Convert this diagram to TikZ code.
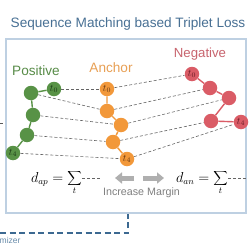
\documentclass[tikz,border=0pt]{standalone}
\usepackage{fontspec}
\newfontfamily\sff{Liberation Sans}
\usetikzlibrary{arrows.meta}
\definecolor{boxc}{RGB}{190,208,226}
\definecolor{titlec}{RGB}{72,112,148}
\definecolor{gfill}{RGB}{88,146,70}
\definecolor{gtext}{RGB}{88,140,72}
\definecolor{glab}{RGB}{25,55,20}
\definecolor{ofill}{RGB}{242,152,58}
\definecolor{otext}{RGB}{232,160,85}
\definecolor{olab}{RGB}{95,50,15}
\definecolor{rfill}{RGB}{218,92,102}
\definecolor{rtext}{RGB}{200,100,110}
\definecolor{rlab}{RGB}{100,25,35}
\definecolor{dashc}{RGB}{100,100,100}
\definecolor{arrc}{RGB}{175,175,175}
\definecolor{optc}{RGB}{60,105,145}
\definecolor{optt}{RGB}{105,140,170}
\begin{document}
\begin{tikzpicture}[x=1pt,y=-1pt,
  dot/.style={circle,minimum size=14.5pt,inner sep=0pt,font=\fontsize{10}{11}\selectfont},
  gdot/.style={dot,fill=gfill,text=glab},
  odot/.style={dot,fill=ofill,text=olab},
  rdot/.style={dot,fill=rfill,text=rlab},
  gline/.style={draw=gfill,line width=1.4pt},
  oline/.style={draw=ofill,line width=1.4pt},
  rline/.style={draw=rfill,line width=1.4pt},
  dl/.style={draw=dashc,line width=0.6pt,dash pattern=on 3pt off 2pt},
  garrow/.style={draw=arrc,line width=5pt,-{Triangle[length=7pt,width=11pt]}},
  lbl/.style={font=\sff\fontsize{13.6}{15}\selectfont,inner sep=0pt},
]
\useasboundingbox (0,0) rectangle (252,252);
\fill[white] (0,0) rectangle (252,252);
% title
\node[lbl,text=titlec] (title) at (128,24) {Sequence Matching based Triplet Loss};
% main box
\draw[draw=boxc,line width=1.5pt,fill=white] (6,39) rectangle (246,213);
% group labels
\node[lbl,text=gtext] (pos) at (36,71) {Positive};
\node[lbl,text=otext] (anc) at (111,68) {Anchor};
\node[lbl,text=rtext,font=\sff\fontsize{13.2}{15}\selectfont] (neg) at (200,54) {Negative};
% positive
\node[gdot] (g0) at (54,89) {$t_0$};
\node[gdot] (g1) at (31,93) {};
\node[gdot] (g2) at (33,115) {};
\node[gdot] (g3) at (27,135) {};
\node[gdot] (g4) at (13,153) {$t_4$};
% anchor
\node[odot] (a0) at (107,89) {$t_0$};
\node[odot] (a1) at (107,111) {};
\node[odot] (a2) at (121,125) {};
\node[odot] (a3) at (113,142) {};
\node[odot] (a4) at (127,159) {$t_4$};
% negative
\node[rdot] (n0) at (192,74) {$t_0$};
\node[rdot] (n1) at (210,88) {};
\node[rdot] (n2) at (229,98) {};
\node[rdot] (n3) at (211,121) {};
\node[rdot] (n4) at (241,122) {$t_4$};
% chains
\draw[gline] (g0) -- (g1) -- (g2) -- (g3) -- (g4);
\draw[oline] (a0) -- (a1) -- (a2) -- (a3) -- (a4);
\draw[rline] (n0) -- (n1) -- (n2) -- (n3) -- (n4);
% matching lines
\foreach \i in {0,...,4}{
  \draw[dl] (g\i) -- (a\i);
  \draw[dl] (a\i) -- (n\i);
}
% formulas
\node[anchor=base east,inner sep=0pt,font=\fontsize{13.5}{15}\selectfont] (dap) at (82,182) {$d_{ap} = \displaystyle\sum_t$};
\node[anchor=base east,inner sep=0pt,font=\fontsize{13.5}{15}\selectfont] (dan) at (228,182) {$d_{an} = \displaystyle\sum_t$};
\draw[dl] ([yshift=3.7pt]dap.base east) -- ++(18,0);
\draw[dl] ([yshift=3.7pt]dan.base east) -- ++(18,0);
% margin arrows
\coordinate (la1) at (134,178);
\coordinate (la2) at (115,178);
\coordinate (ra1) at (143,178);
\coordinate (ra2) at (164,178);
\draw[garrow] (la1) -- (la2);
\draw[garrow] (ra1) -- (ra2);
\node[font=\sff\fontsize{10.7}{12}\selectfont,text=black!50,inner sep=0pt] (inc) at (141.5,193) {Increase Margin};
% left edge mark
\coordinate (lm1) at (0,123);
\coordinate (lm2) at (3,123);
\draw[black!65,line width=0.8pt] (lm1) -- (lm2);
% optimizer dashed line
\coordinate (o1) at (0,233);
\coordinate (o2) at (128,233);
\coordinate (o3) at (128,214);
\draw[optc,line width=1.1pt,dash pattern=on 6pt off 3.5pt] (o1) -- (o2) -- (o3);
\node[anchor=west,inner sep=0pt,font=\sff\fontsize{8.5}{10}\selectfont,text=optt] (opt) at (-0.5,240) {mizer};
\end{tikzpicture}
\end{document}
